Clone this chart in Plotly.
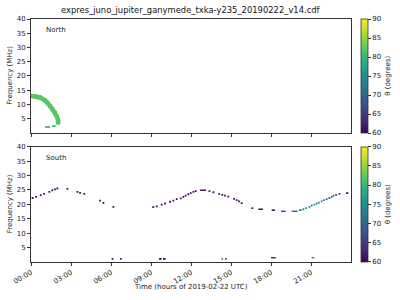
import pandas as pd
import plotly.graph_objects as go
from plotly.colors import sample_colorscale

TITLE = "expres_juno_jupiter_ganymede_txka-y235_20190222_v14.cdf"
BASE = pd.Timestamp("2019-02-22")

# ---- North hemisphere: emission band (hours, MHz, theta deg)
north_t = [0.0, 0.35, 0.68, 1.05, 1.25, 1.43, 1.62, 1.8, 1.93, 2.02, 2.04]
north_f = [12.9, 12.8, 12.4, 11.4, 10.5, 9.4, 8.2, 7.0, 5.8, 4.6, 3.5]
north_theta = [82] * len(north_t)
# North short segments (start h, end h, MHz, theta)
north_seg_t0 = [1.05, 1.58]
north_seg_t1 = [1.43, 1.85]
north_seg_f = [2.0, 2.3]
north_seg_theta = [76, 80]

# ---- South hemisphere: isolated points (hours, MHz, theta deg)
south_t = [0.12, 0.375, 0.73, 0.98, 1.38, 1.6, 1.8, 1.98, 2.73, 3.48, 3.68, 4.0,
           5.18, 5.43, 6.18,
           9.43, 9.8, 10.05, 10.43, 10.68, 10.93, 11.23, 11.43, 11.6, 11.8, 11.98,
           12.18, 12.35, 13.38, 13.68, 14.12, 14.35, 14.55, 14.8, 15.23, 15.43,
           15.6, 15.8, 16.6,
           20.43, 20.63, 20.88, 21.05, 21.25, 21.43, 21.6, 21.8, 21.98, 22.18,
           22.38, 22.55, 22.68, 22.88, 23.13]
south_f = [22.2, 22.6, 23.2, 23.6, 24.3, 24.9, 25.2, 25.5, 25.4, 24.3, 24.0, 23.6,
           21.3, 20.5, 19.1,
           19.3, 19.9, 20.3, 20.9, 21.3, 21.8, 22.1, 22.6, 23.0, 23.5, 23.9,
           24.3, 24.6, 24.6, 24.2, 23.6, 23.3, 23.0, 22.7, 21.9, 21.5,
           21.0, 20.4, 18.7,
           18.3, 18.7, 19.1, 19.6, 19.9, 20.3, 20.6, 21.0, 21.5, 21.8,
           22.2, 22.6, 23.0, 23.3, 23.6]
south_theta = [61] * 39 + [75, 75, 75, 75, 75, 74, 74, 73, 72, 72,
                           71, 70, 69, 66, 64]
# South short segments (start h, end h, MHz, theta)
south_seg_t0 = [9.08, 12.68, 17.05, 18.05, 18.75, 19.55, 20.1, 23.63,
                6.05, 6.68, 9.6, 9.9, 14.3, 14.58, 18.0, 21.05]
south_seg_t1 = [9.25, 13.13, 17.4, 18.3, 19.1, 20.0, 20.3, 23.8,
                6.18, 6.8, 9.8, 10.1, 14.38, 14.68, 18.35, 21.25]
south_seg_f = [19.1, 24.9, 18.3, 18.0, 17.6, 17.6, 18.0, 23.9,
               1.1, 1.1, 1.1, 1.1, 1.1, 1.1, 1.5, 1.5]
south_seg_theta = [61, 61, 61, 63, 68, 72, 74, 61,
                   61, 61, 61, 61, 61, 61, 64, 75]

TICK_HOURS = [0, 3, 6, 9, 12, 15, 18, 21]
Y_TICKS = [5, 10, 15, 20, 25, 30, 35, 40]
CB_TICKS = [60, 65, 70, 75, 80, 85, 90]
CMIN, CMAX = 60, 90

FONT = "DejaVu Sans"
AX = "#333333"


def to_time(hours):
    return list(BASE + pd.to_timedelta(hours, unit="h"))


def theta_color(th):
    return sample_colorscale("Viridis", [(th - CMIN) / (CMAX - CMIN)])[0]


fig = go.Figure()

# North band
fig.add_trace(go.Scatter(
    x=to_time(north_t), y=north_f, mode="lines",
    line=dict(color=theta_color(north_theta[0]), width=4.5),
    xaxis="x", yaxis="y", showlegend=False, hoverinfo="skip"))
fig.add_trace(go.Scatter(
    x=to_time(north_t), y=north_f, mode="markers",
    marker=dict(color=north_theta, coloraxis="coloraxis", symbol="square",
                size=4, line=dict(width=0)),
    xaxis="x", yaxis="y", showlegend=False))
for t0, t1, f, th in zip(north_seg_t0, north_seg_t1, north_seg_f, north_seg_theta):
    fig.add_trace(go.Scatter(
        x=to_time([t0, t1]), y=[f, f], mode="lines",
        line=dict(color=theta_color(th), width=1.6),
        xaxis="x", yaxis="y", showlegend=False, hoverinfo="skip"))

# South
for t0, t1, f, th in zip(south_seg_t0, south_seg_t1, south_seg_f, south_seg_theta):
    fig.add_trace(go.Scatter(
        x=to_time([t0, t1]), y=[f, f], mode="lines",
        line=dict(color=theta_color(th), width=1.6),
        xaxis="x2", yaxis="y2", showlegend=False, hoverinfo="skip"))
fig.add_trace(go.Scatter(
    x=to_time(south_t), y=south_f, mode="markers",
    marker=dict(color=south_theta, coloraxis="coloraxis2", symbol="square",
                size=1.8, line=dict(width=0)),
    xaxis="x2", yaxis="y2", showlegend=False))

L, R, T, B = 31, 49, 19, 38
H = 300 - T - B
W = 400 - L - R
top_lo = (300 - B - 132.7) / H
bot_hi = (300 - B - 146.7) / H


def cbar(y0, y1):
    return dict(
        x=(360.7 - L) / W, xanchor="left", xpad=0,
        y=y1, yanchor="top", ypad=0, len=y1 - y0, lenmode="fraction",
        thickness=7, thicknessmode="pixels",
        outlinewidth=0.8, outlinecolor=AX,
        tickmode="array", tickvals=CB_TICKS, ticks="outside", ticklen=3,
        tickcolor=AX, tickfont=dict(family=FONT, size=7, color="#222"),
    )


tick_times = to_time(TICK_HOURS)
tick_text = [f"{h:02d}:00" for h in TICK_HOURS]
xrange_ = [BASE, BASE + pd.Timedelta(hours=24)]

xcommon = dict(type="date", range=xrange_, tickmode="array", tickvals=tick_times,
               ticktext=tick_text, ticks="outside", ticklen=3, tickcolor=AX,
               showline=True, linecolor=AX, linewidth=0.8, mirror=True,
               showgrid=False, zeroline=False,
               tickfont=dict(family=FONT, size=7, color="#222"))
ycommon = dict(range=[0, 40], tickmode="array", tickvals=Y_TICKS, ticks="outside",
               ticklen=3, tickcolor=AX, showline=True, linecolor=AX,
               linewidth=0.8, mirror=True, showgrid=False, zeroline=False,
               tickfont=dict(family=FONT, size=7, color="#222"))

fig.update_layout(
    width=400, height=300,
    margin=dict(l=L, r=R, t=T, b=B, pad=0),
    paper_bgcolor="white", plot_bgcolor="white",
    font=dict(family=FONT, size=7, color="#222"),
    xaxis=dict(**xcommon, domain=[0, 1], anchor="y", showticklabels=False),
    yaxis=dict(**ycommon, domain=[top_lo, 1], anchor="x"),
    xaxis2=dict(**xcommon, domain=[0, 1], anchor="y2", showticklabels=True,
                tickangle=-30),
    yaxis2=dict(**ycommon, domain=[0, bot_hi], anchor="x2"),
    coloraxis=dict(colorscale="Viridis", cmin=CMIN, cmax=CMAX,
                   colorbar=cbar(top_lo, 1)),
    coloraxis2=dict(colorscale="Viridis", cmin=CMIN, cmax=CMAX,
                    colorbar=cbar(0, bot_hi)),
    annotations=[
        dict(text=TITLE, x=(190.5 - L) / W, y=(300 - B - 10) / H, xref="paper",
             yref="paper", showarrow=False, xanchor="center", yanchor="middle",
             font=dict(family=FONT, size=8.4, color="#111")),
        dict(text="North", x=0.04, y=0.9, xref="x domain", yref="y domain",
             showarrow=False, xanchor="left", yanchor="middle",
             font=dict(family=FONT, size=7, color="#222")),
        dict(text="South", x=0.04, y=0.9, xref="x2 domain", yref="y2 domain",
             showarrow=False, xanchor="left", yanchor="middle",
             font=dict(family=FONT, size=7, color="#222")),
        dict(text="Frequency (MHz)", x=(10 - L) / W, y=(top_lo + 1) / 2,
             xref="paper", yref="paper", showarrow=False, textangle=-90,
             xanchor="center", yanchor="middle",
             font=dict(family=FONT, size=7, color="#222")),
        dict(text="Frequency (MHz)", x=(10 - L) / W, y=bot_hi / 2,
             xref="paper", yref="paper", showarrow=False, textangle=-90,
             xanchor="center", yanchor="middle",
             font=dict(family=FONT, size=7, color="#222")),
        dict(text="θ (degrees)", x=(388 - L) / W, y=(top_lo + 1) / 2,
             xref="paper", yref="paper", showarrow=False, textangle=-90,
             xanchor="center", yanchor="middle",
             font=dict(family=FONT, size=7, color="#222")),
        dict(text="θ (degrees)", x=(388 - L) / W, y=bot_hi / 2,
             xref="paper", yref="paper", showarrow=False, textangle=-90,
             xanchor="center", yanchor="middle",
             font=dict(family=FONT, size=7, color="#222")),
        dict(text="Time (hours of 2019-02-22 UTC)", x=(190.5 - L) / W,
             y=(300 - B - 286.7) / H, xref="paper", yref="paper",
             showarrow=False, xanchor="center", yanchor="middle",
             font=dict(family=FONT, size=7, color="#222")),
    ],
)

fig.write_html("out.html")
